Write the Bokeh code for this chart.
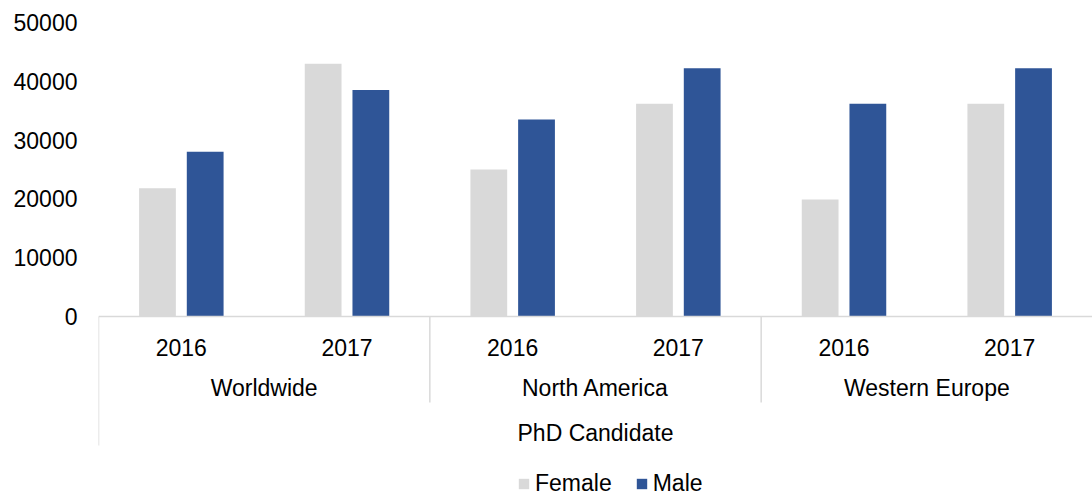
from bokeh.plotting import figure
from bokeh.models import FactorRange, Range1d, ColumnDataSource, FixedTicker
from bokeh.transform import dodge
from bokeh.embed import file_html
from bokeh.resources import INLINE

group_label = "PhD Candidate"
regions = ["Worldwide", "North America", "Western Europe"]
years = ["2016", "2017"]
female = [21800, 43000, 25000, 36200, 19900, 36200]
male = [28000, 38500, 33500, 42200, 36200, 42200]
y_ticks = [0, 10000, 20000, 30000, 40000, 50000]

FONT = "Liberation Sans"
FS = "23px"
GRAY = "#d9d9d9"
BLUE = "#2F5597"
SEP = "#d9d9d9"

factors = [(r, y) for r in regions for y in years]
src = ColumnDataSource(dict(x=factors, female=female, male=male))

x_range = FactorRange(*factors, factor_padding=0, subgroup_padding=0,
                      group_padding=0, range_padding=0)
p = figure(width=1092, height=497, x_range=x_range,
           y_range=Range1d(-30782, 53741),
           output_backend="svg", toolbar_location=None,
           min_border_left=98, min_border_right=0,
           min_border_top=0, min_border_bottom=0)
p.outline_line_color = None
p.grid.visible = False
p.background_fill_color = "white"
p.border_fill_color = "white"

p.vbar(x=dodge("x", -0.144, range=p.x_range), top="female", width=0.222,
       source=src, fill_color=GRAY, line_color=None, legend_label="Female")
p.vbar(x=dodge("x", 0.144, range=p.x_range), top="male", width=0.222,
       source=src, fill_color=BLUE, line_color=None, legend_label="Male")

# separators between region groups (in the axis area)
sep_src = ColumnDataSource(dict(
    x=[(r, years[0]) for r in regions],
    y0=[0, 0, 0],
    y1=[-21939, -14626, -14626],
))
p.segment(x0=dodge("x", -0.5, range=p.x_range), x1=dodge("x", -0.5, range=p.x_range),
          y0="y0", y1="y1", source=sep_src, line_color=SEP, line_width=1.5)

# y axis
ya = p.yaxis[0]
ya.ticker = FixedTicker(ticks=y_ticks)
ya.axis_line_color = None
ya.major_tick_line_color = None
ya.minor_tick_line_color = None
ya.major_tick_out = 0
ya.major_tick_in = 0
ya.minor_tick_out = 0
ya.major_label_standoff = 21
ya.major_label_text_font = FONT
ya.major_label_text_font_size = FS
ya.major_label_text_color = "#000000"

# x axis (categorical, at y = 0 inside the frame)
xa = p.xaxis[0]
xa.fixed_location = 0
xa.axis_line_color = SEP
xa.axis_line_width = 1.5
xa.major_tick_line_color = None
xa.minor_tick_line_color = None
xa.separator_line_color = None
xa.major_label_standoff = 16
xa.major_label_text_font = FONT
xa.major_label_text_font_size = FS
xa.major_label_text_color = "#000000"
xa.group_text_font = FONT
xa.group_text_font_size = FS
xa.group_text_color = "#000000"
xa.group_text_font_style = "normal"
xa.axis_label = group_label
xa.axis_label_text_font = FONT
xa.axis_label_text_font_size = FS
xa.axis_label_text_font_style = "normal"
xa.axis_label_text_color = "#000000"
xa.axis_label_standoff = 16

lg = p.legend[0]
lg.orientation = "horizontal"
lg.location = (419, 0)
lg.border_line_color = None
lg.background_fill_alpha = 0
lg.padding = 0
lg.margin = 0
lg.spacing = 23
lg.glyph_width = 13
lg.glyph_height = 13
lg.label_standoff = 5
lg.label_text_font = FONT
lg.label_text_font_size = FS
lg.label_text_color = "#000000"

open("out.html", "w").write(file_html(p, INLINE))
